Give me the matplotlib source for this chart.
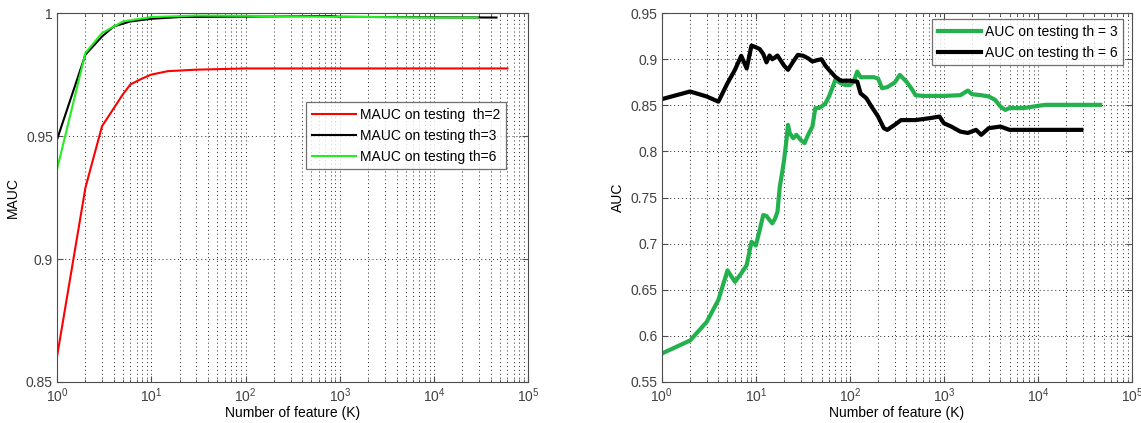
import matplotlib
matplotlib.use("Agg")
import matplotlib.pyplot as plt
from matplotlib.ticker import LogLocator, NullFormatter, FormatStrFormatter

plt.rcParams['font.family'] = ['Liberation Sans', 'DejaVu Sans']
plt.rcParams['mathtext.fontset'] = 'custom'
plt.rcParams['mathtext.rm'] = 'Liberation Sans'
plt.rcParams['mathtext.it'] = 'Liberation Sans'
plt.rcParams['font.size'] = 10

# ---------------- left panel: MAUC ----------------
mauc_th2_x = [1, 2, 3, 5, 6, 8, 10, 15, 30, 100, 1000, 10000, 60000]
mauc_th2_y = [0.8604, 0.929, 0.954, 0.967, 0.971, 0.9734, 0.975, 0.9764, 0.977, 0.9775, 0.9775, 0.9775, 0.9775]

mauc_th3_x = [1, 2, 3, 4, 6, 10, 20, 100, 500, 800, 1000, 10000, 46000]
mauc_th3_y = [0.9486, 0.9831, 0.9905, 0.9946, 0.9966, 0.9977, 0.9984, 0.9986, 0.9988, 0.9988, 0.9985, 0.9983, 0.9982]

mauc_th6_x = [1, 2, 3, 5, 10, 30, 100, 1000, 10000, 29000]
mauc_th6_y = [0.9365, 0.9838, 0.9919, 0.9966, 0.9984, 0.9990, 0.9989, 0.9985, 0.9982, 0.9982]

# ---------------- right panel: AUC ----------------
auc_th3_x = [1, 2, 3, 4, 5, 6, 7, 8, 9, 10, 11, 12, 13, 14, 15, 16, 17, 18, 19, 20,
             21, 22, 23, 25, 27, 30, 33, 36, 40, 43, 47, 50, 55, 60, 65, 70, 80, 90,
             100, 110, 120, 130, 150, 180, 200, 220, 250, 300, 340, 400, 450, 500,
             600, 800, 1000, 1500, 1800, 2000, 2500, 3000, 3500, 4000, 4500, 5000,
             7000, 10000, 12000, 46000]
auc_th3_y = [0.5808, 0.595, 0.615, 0.639, 0.671, 0.6586, 0.6677, 0.6767, 0.702, 0.698,
             0.7147, 0.731, 0.730, 0.7256, 0.722, 0.727, 0.7346, 0.762, 0.776, 0.7908,
             0.8089, 0.8288, 0.8197, 0.8143, 0.818, 0.8125, 0.809, 0.818, 0.827, 0.847,
             0.847, 0.8487, 0.852, 0.8596, 0.8686, 0.8775, 0.874, 0.872, 0.872, 0.8757,
             0.8866, 0.8805, 0.8805, 0.8805, 0.879, 0.8686, 0.8697, 0.8747, 0.883,
             0.8757, 0.8686, 0.861, 0.8602, 0.8602, 0.8602, 0.861, 0.866, 0.862, 0.861,
             0.8596, 0.856, 0.8487, 0.845, 0.847, 0.847, 0.8494, 0.8505, 0.8505]

auc_th6_x = [1, 2, 3, 4, 5, 6, 7, 8, 9, 10, 11, 12, 13, 14, 15, 17, 20, 22, 25, 28,
             32, 36, 40, 45, 50, 55, 60, 70, 80, 100, 120, 130, 150, 170, 200, 230,
             250, 300, 350, 500, 700, 900, 1000, 1200, 1500, 1800, 2200, 2500, 3000,
             4000, 5000, 10000, 29000]
auc_th6_y = [0.8567, 0.865, 0.8596, 0.854, 0.874, 0.8885, 0.9037, 0.890, 0.9148, 0.913,
             0.911, 0.9057, 0.8966, 0.904, 0.900, 0.904, 0.893, 0.8885, 0.8975, 0.9047,
             0.9037, 0.901, 0.8975, 0.899, 0.900, 0.893, 0.8885, 0.881, 0.8767, 0.8767,
             0.8757, 0.863, 0.8577, 0.8487, 0.8378, 0.8252, 0.8234, 0.8288, 0.834,
             0.834, 0.836, 0.8378, 0.8306, 0.827, 0.8215, 0.820, 0.8234, 0.818, 0.8252,
             0.827, 0.8234, 0.8234, 0.8234]

fig = plt.figure(figsize=(11.41, 4.23), dpi=100)
ax1 = fig.add_axes([0.050, 0.097, 0.413, 0.872])
ax2 = fig.add_axes([0.580, 0.097, 0.412, 0.872])

ax1.plot(mauc_th2_x, mauc_th2_y, color='#ff0000', lw=1.5, label='MAUC on testing  th=2')
ax1.plot(mauc_th3_x, mauc_th3_y, color='black', lw=1.5, label='MAUC on testing th=3')
ax1.plot(mauc_th6_x, mauc_th6_y, color='#22ee22', lw=1.5, label='MAUC on testing th=6')
ax1.set_ylim(0.85, 1.0)
ax1.set_yticks([0.85, 0.9, 0.95, 1.0])
ax1.set_ylabel('MAUC', labelpad=4)
leg1 = ax1.legend(loc='upper left', bbox_to_anchor=(0.529, 0.758), fancybox=False,
                  handlelength=3.2, borderpad=0.4, labelspacing=0.5, handletextpad=0.3,
                  borderaxespad=0)

ax2.plot(auc_th3_x, auc_th3_y, color='#22b14c', lw=3, label='AUC on testing th = 3')
ax2.plot(auc_th6_x, auc_th6_y, color='black', lw=3, label='AUC on testing th = 6')
ax2.set_ylim(0.55, 0.95)
ax2.set_yticks([0.55, 0.6, 0.65, 0.7, 0.75, 0.8, 0.85, 0.9, 0.95])
ax2.set_ylabel('AUC', labelpad=4)
leg2 = ax2.legend(loc='upper right', bbox_to_anchor=(0.982, 0.984), fancybox=False,
                  handlelength=3.1, borderpad=0.4, labelspacing=0.5, handletextpad=0.3,
                  borderaxespad=0)

for ax, leg in [(ax1, leg1), (ax2, leg2)]:
    ax.set_xscale('log')
    ax.set_xlim(1, 1e5)
    ax.xaxis.set_major_locator(LogLocator(base=10))
    ax.xaxis.set_minor_locator(LogLocator(base=10, subs=range(2, 10)))
    ax.xaxis.set_minor_formatter(NullFormatter())
    ax.yaxis.set_major_formatter(FormatStrFormatter('%g'))
    ax.set_xlabel('Number of feature (K)', labelpad=1)
    ax.grid(True, which='major', axis='both', linestyle=(0, (1, 3)), color='0.15', lw=0.7)
    ax.grid(True, which='minor', axis='x', linestyle=(0, (1, 3)), color='0.15', lw=0.7)
    ax.tick_params(which='both', direction='in', top=True, right=True, colors='0.3',
                   labelcolor='0.25', pad=3)
    ax.tick_params(which='major', length=4)
    ax.tick_params(which='minor', length=2)
    for s in ax.spines.values():
        s.set_color('0.3')
    leg.get_frame().set_edgecolor('0.3')
    leg.get_frame().set_linewidth(0.9)

fig.savefig('out.png', dpi=100)
